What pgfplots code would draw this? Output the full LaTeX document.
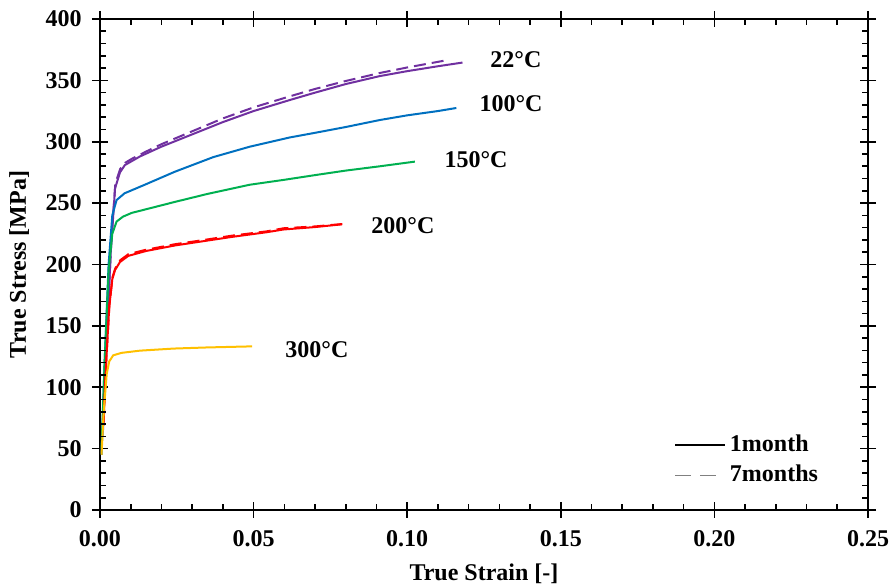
\documentclass[border=0pt]{standalone}
\usepackage{pgfplots}
\pgfplotsset{compat=1.18}
\usepackage{fontspec}
\setmainfont{Liberation Serif}
\definecolor{cpurple}{HTML}{7030A0}
\definecolor{cblue}{HTML}{0070C0}
\definecolor{cgreen}{HTML}{00B050}
\definecolor{cred}{HTML}{FF0000}
\definecolor{cyellow}{HTML}{FFC000}
\begin{document}
\fontsize{12}{14}\selectfont\bfseries
\begin{tikzpicture}
\pgfplotsset{
  base/.style={
    scale only axis, width=384pt, height=245.5pt,
    xmin=0, xmax=0.25, ymin=0, ymax=400,
    xtick={0,0.05,...,0.25}, ytick={0,50,...,400},
  }
}
\begin{axis}[base,
  axis line style={line width=1.4pt},
  tick align=center, major tick length=8pt,
  tick style={line width=0.8pt, black},
  minor tick num=0,
  /pgf/number format/assume math mode=true,
  xticklabel style={/pgf/number format/.cd, fixed, fixed zerofill, precision=2},
  yticklabel style={/pgf/number format/.cd, fixed},
  ticklabel style={font=\fontsize{12}{14}\selectfont\bfseries},
  xticklabel shift=2pt, yticklabel shift=1pt,
  xlabel={True Strain [-]}, ylabel={True Stress [MPa]},
  label style={font=\fontsize{12}{14}\selectfont\bfseries},
  xlabel style={yshift=-0.5pt}, ylabel style={yshift=0pt},
  legend style={draw=none, fill=none, at={(0.74,0.17)}, anchor=north west,
    font=\fontsize{12}{14}\selectfont\bfseries, row sep=1pt},
  legend cell align=left,
  legend image code/.code={\draw[#1] (0pt,0pt) -- (25pt,0pt);},
  every axis plot/.append style={line width=1pt},
]
\addlegendimage{black, line width=0.6pt}
\addlegendentry{1month}
\addlegendimage{gray, line width=0.6pt, dash pattern=on 8pt off 4.5pt}
\addlegendentry{7months}

% 22 C
\addplot[cpurple, forget plot] coordinates {
(0.0008,60) (0.002,130) (0.0035,210) (0.0049,262) (0.0065,275) (0.0081,281) (0.013,288)
(0.02,296) (0.03,306) (0.04,316) (0.05,325) (0.0618,334) (0.07,340) (0.08,347)
(0.0911,353.5) (0.1,357.5) (0.11,361.5) (0.118,364.5)};
\addplot[cpurple, forget plot, dash pattern=on 6pt off 3pt] coordinates {
(0.001,65) (0.0022,140) (0.0037,220) (0.005,266) (0.0066,278) (0.0083,283) (0.0103,286) (0.015,292)
(0.02,298) (0.03,308.5) (0.04,319) (0.05,328) (0.0618,337) (0.07,343) (0.08,349.5)
(0.0911,356) (0.1,360.5) (0.112,366)};
% 100 C
\addplot[cblue, forget plot] coordinates {
(0.0005,45) (0.0015,120) (0.0028,200) (0.004,240) (0.0054,252.5) (0.008,258) (0.0146,265)
(0.0244,275.6) (0.0369,287.5) (0.0488,296) (0.0618,303.5) (0.0705,307.5) (0.08,312)
(0.0911,317.7) (0.1,321.5) (0.11,325) (0.116,327.5)};
% 150 C
\addplot[cgreen, forget plot] coordinates {
(0.0005,50) (0.0015,120) (0.0028,195) (0.004,225) (0.0054,235) (0.0075,239) (0.0103,242)
(0.0244,251) (0.035,257.5) (0.0488,265) (0.06,269) (0.0705,273) (0.08,276.5)
(0.0911,280) (0.1025,283.8)};
% 200 C
\addplot[cred, forget plot] coordinates {
(0.0011,69) (0.002,120) (0.003,165) (0.004,188) (0.0049,195.5) (0.0065,202) (0.0092,207)
(0.015,211) (0.0244,215.5) (0.0326,218.6) (0.043,222.5) (0.0543,226.3) (0.0597,228.5)
(0.07,230.5) (0.0787,232.7)};
\addplot[cred, forget plot, dash pattern=on 6pt off 3pt] coordinates {
(0.0012,72) (0.0021,125) (0.0031,168) (0.0041,190) (0.005,197) (0.0066,203.5) (0.0093,208.5)
(0.015,212) (0.0244,216.5) (0.0326,219.5) (0.043,223.5) (0.0543,227) (0.0597,229.5)
(0.07,231) (0.079,233)};
% 300 C
\addplot[cyellow, forget plot] coordinates {
(0.0005,45) (0.0012,80) (0.0022,111) (0.003,121) (0.0043,126) (0.007,128) (0.013,129.8)
(0.0239,131.5) (0.0347,132.4) (0.0495,133.3)};

\node[anchor=center] at (axis cs:0.1354,366.6) {22°C};
\node[anchor=center] at (axis cs:0.1338,330.8) {100°C};
\node[anchor=center] at (axis cs:0.1224,285.1) {150°C};
\node[anchor=center] at (axis cs:0.0986,231.4) {200°C};
\node[anchor=center] at (axis cs:0.0706,130.3) {300°C};
\end{axis}
\begin{axis}[base,
  xticklabels={}, yticklabels={},
  major tick length=0pt,
  minor tick num=4, minor tick length=3pt, tick align=inside,
  tick style={line width=0.8pt, black},
  axis line style={draw=none},
]
\end{axis}
\pgfresetboundingbox
\path[use as bounding box] ([xshift=-50pt,yshift=-37.5pt]current axis.south west) rectangle ([xshift=13pt,yshift=9.5pt]current axis.north east);
\end{tikzpicture}
\end{document}
